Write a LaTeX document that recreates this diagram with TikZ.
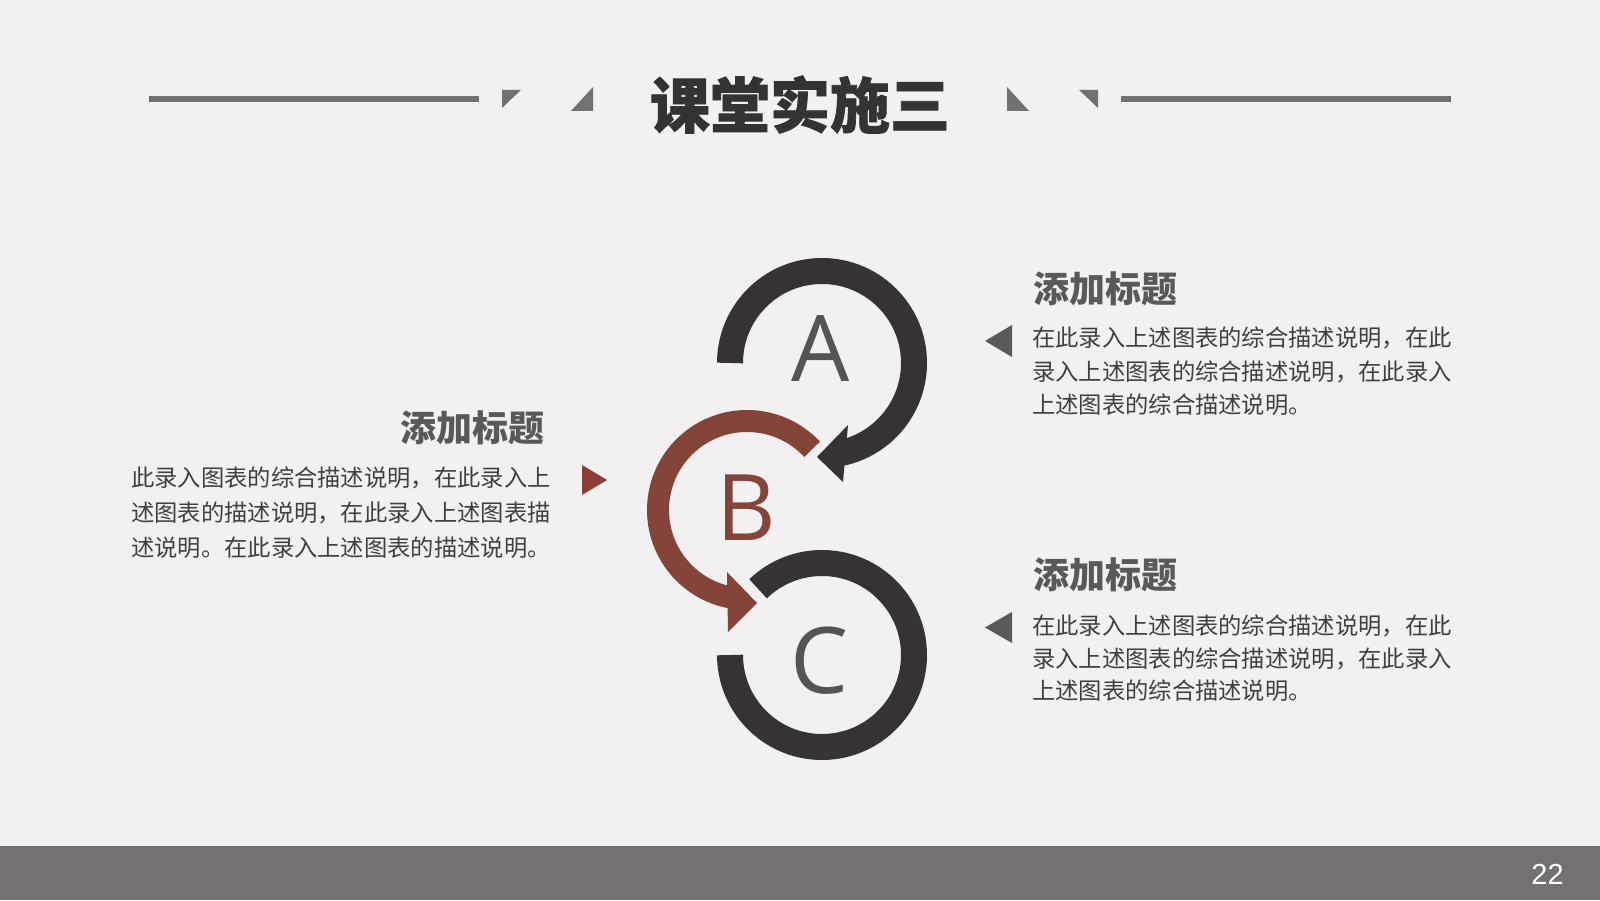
\documentclass[tikz,border=0pt]{standalone}
\usepackage{fontspec}
\setmainfont{Open Sans}
\newfontfamily\cjk{Noto Sans CJK SC}
\newfontfamily\cjkheavy{Noto Sans CJK SC}[BoldFeatures={FakeBold=1.2}]
\newfontfamily\numfont{Liberation Sans}
\definecolor{bg}{HTML}{F2F0F1}
\definecolor{band}{HTML}{757171}
\definecolor{deco}{HTML}{737070}
\definecolor{ringdark}{HTML}{373335}
\definecolor{ringred}{HTML}{85443A}
\definecolor{lettergray}{HTML}{545454}
\definecolor{headgray}{HTML}{595959}
\definecolor{bodygray}{HTML}{404040}
\definecolor{titlecol}{HTML}{333333}
\definecolor{trired}{HTML}{8B3F36}
\definecolor{trigray}{HTML}{595959}
\begin{document}
\begin{tikzpicture}[x=1pt,y=1pt,
  ring/.style={line width=26pt, draw=ringdark, line cap=butt},
  redring/.style={line width=22pt, draw=ringred, line cap=butt},
  body/.style={font=\cjk\fontsize{23.3}{28}\selectfont, text=bodygray, inner sep=0pt, anchor=base west},
  head/.style={font=\cjk\bfseries\fontsize{36}{40}\selectfont, text=headgray, inner sep=0pt},
  letter/.style={font=\fontsize{92}{100}\selectfont, inner sep=0pt},
  decoline/.style={line width=6pt, draw=deco}]
\useasboundingbox (0,0) rectangle (1600,900);
\fill[bg] (0,0) rectangle (1600,900);
\fill[band] (0,0) rectangle (1600,54);
\node[font=\numfont\fontsize{29}{32}\selectfont, text=white, inner sep=0pt] (pg) at (1547.5,26) {22};

% title and decoration
\node[font=\cjkheavy\bfseries\fontsize{60}{64}\selectfont, text=titlecol, anchor=base, inner sep=0pt] (title) at (800,772.2) {课堂实施三};
\coordinate (l1) at (149,801); \coordinate (l2) at (479,801);
\coordinate (r1) at (1121,801); \coordinate (r2) at (1451,801);
\draw[decoline] (l1) -- (l2);
\draw[decoline] (r1) -- (r2);
\fill[deco] (502,810) -- (521,810) -- (502,792) -- cycle;
\fill[deco] (593,813) -- (593,789) -- (571,789) -- cycle;
\fill[deco] (1007,813) -- (1007,789) -- (1029,789) -- cycle;
\fill[deco] (1098,810) -- (1079,810) -- (1098,792) -- cycle;

% rings
\coordinate (cA) at (822,537);
\coordinate (cB) at (747,390);
\coordinate (cC) at (822,245);
\draw[ring] (cA) ++(180:92) arc[start angle=180, end angle=-78, radius=92];
\fill[ringdark] (848,475) -- (843,418) -- (817,443) -- cycle;
\draw[redring] (cB) ++(43:89) arc[start angle=43, end angle=260, radius=89];
\fill[ringred] (727,328) -- (728,268) -- (757,297) -- cycle;
\draw[ring] (cC) ++(134:92) arc[start angle=134, end angle=-180, radius=92];
\node[letter, text=lettergray] (A) at (821,551) {A};
\node[letter, text=ringred] (B) at (746,392.5) {B};
\node[letter, text=lettergray] (C) at (820,239) {C};

% left block
\node[head, anchor=base east] (hL) at (545,458.8) {添加标题};
\node[body] (bL1) at (131,413.6) {此录入图表的综合描述说明，在此录入上};
\node[body] (bL2) at (131,378.1) {述图表的描述说明，在此录入上述图表描};
\node[body] (bL3) at (131,343.6) {述说明。在此录入上述图表的描述说明。};
\fill[trired] (582,435) -- (582,405) -- (607,420) -- cycle;

% right block 1
\node[head, anchor=base west] (hR1) at (1033,597.3) {添加标题};
\node[body] (bR11) at (1032,553.1) {在此录入上述图表的综合描述说明，在此};
\node[body] (bR12) at (1032,519.1) {录入上述图表的综合描述说明，在此录入};
\node[body] (bR13) at (1032,486.1) {上述图表的综合描述说明。};
\fill[trigray] (1012,575) -- (1012,543) -- (985,559) -- cycle;

% right block 2
\node[head, anchor=base west] (hR2) at (1033,311.3) {添加标题};
\node[body] (bR21) at (1032,265.1) {在此录入上述图表的综合描述说明，在此};
\node[body] (bR22) at (1032,232.1) {录入上述图表的综合描述说明，在此录入};
\node[body] (bR23) at (1032,200.1) {上述图表的综合描述说明。};
\fill[trigray] (1012,288) -- (1012,257) -- (985,272.5) -- cycle;
\end{tikzpicture}
\end{document}
